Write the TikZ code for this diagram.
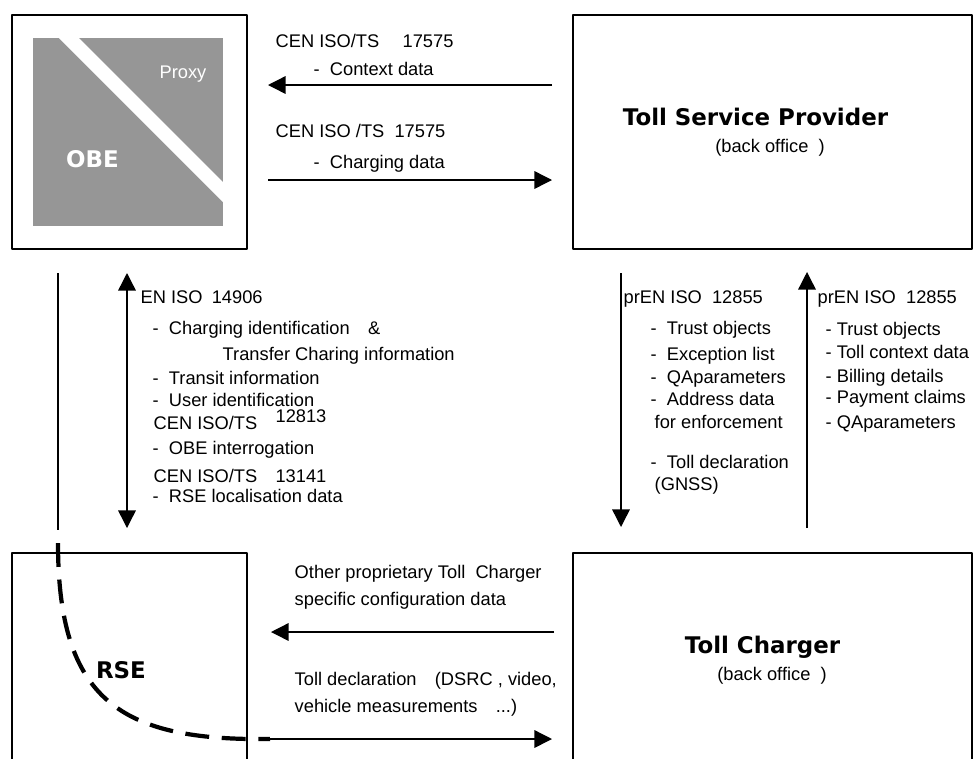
\documentclass[tikz,border=0pt]{standalone}
\usepackage{fontspec}
\setmainfont{Liberation Sans}
\newfontfamily\headfont{DejaVu Sans}
\usetikzlibrary{arrows.meta}
\definecolor{obegray}{RGB}{150,150,150}
\begin{document}
\begin{tikzpicture}[x=0.025cm,y=-0.025cm,line join=round,line width=1pt,
		>={Triangle[length=12.5pt,width=12.5pt]}]
	\tikzset{box/.style={draw,line width=1.3pt,inner sep=0pt},
		txt/.style={anchor=base west,inner sep=0pt,font=\fontsize{13}{15}\selectfont},
		sub/.style={anchor=base,inner sep=0pt,font=\fontsize{13}{15}\selectfont},
		head/.style={anchor=base,inner sep=0pt,font=\headfont\bfseries\fontsize{16.3}{19}\selectfont},
		link/.style={line width=3pt,dash pattern=on 17pt off 9pt}}
	\useasboundingbox (0,0) rectangle (977,758);
	\clip (0,0) rectangle (977,758);
	% boxes
	\node[box,minimum width=5.875cm,minimum height=5.85cm] (obe) at (129.5,132) {};
	\node[box,minimum width=9.975cm,minimum height=5.85cm] (tsp) at (772.5,132) {};
	\node[box,minimum width=5.875cm,minimum height=6.175cm] (rse) at (129.5,676.5) {};
	\node[box,minimum width=9.975cm,minimum height=6.175cm] (tc) at (772.5,676.5) {};
	% OBE with proxy
	\fill[obegray] (33,38) rectangle (223,226);
	\fill[white] (59,38) -- (79,38) -- (223,182) -- (223,202) -- cycle;
	\node[head,text=white] (obename) at (92.5,167) {OBE};
	\node[sub,text=white] (proxy) at (183,78) {Proxy};
	\node[head] (tspname) at (755.5,125) {Toll Service Provider};
	\node[sub] (tspsub) at (770,152) {(back office\ \ )};
	\node[head] (tcname) at (762.5,653) {Toll Charger};
	\node[sub] (tcsub) at (772,680) {(back office\ \ )};
	\node[head] (rsename) at (121,678) {RSE};
	% TSP <-> OBE
	\coordinate (ctxA) at (552,85);
	\coordinate (ctxB) at (268,85);
	\coordinate (chgA) at (268,180);
	\coordinate (chgB) at (552,180);
	\draw[->] (ctxA) -- (ctxB);
	\draw[->] (chgA) -- (chgB);
	\node[txt] (ctxstd) at (275,47) {CEN ISO/TS \quad 17575};
	\node[txt] (ctxdat) at (313,75) {-\ \ Context data};
	\node[txt] (chgstd) at (275,137) {CEN ISO /TS\ \ 17575};
	\node[txt] (chgdat) at (313,168) {-\ \ Charging data};
	% OBE <-> RSE
	\coordinate (dsrcA) at (58,273);
	\coordinate (dsrcB) at (58,530);
	\coordinate (idA) at (127,273);
	\coordinate (idB) at (127,528);
	\draw (dsrcA) -- (dsrcB);
	\draw[<->] (idA) -- (idB);
	\node[txt] (idstd) at (140,303) {EN ISO\enspace 14906};
	\node[txt] (id1) at (152,334) {-\ \ Charging identification\quad\&};
	\node[txt] (id2) at (222,360) {Transfer Charing information};
	\node[txt] (id3) at (152,384) {-\ \ Transit information};
	\node[txt] (id4) at (152,406) {-\ \ User identification};
	\node[txt] (intstd) at (153,429) {CEN ISO/TS\hspace{1em}\raisebox{4.3pt}{12813}};
	\node[txt] (int1) at (152,454) {-\ \ OBE interrogation};
	\node[txt] (locstd) at (153,482) {CEN ISO/TS\hspace{1em}13141};
	\node[txt] (loc1) at (152,502) {-\ \ RSE localisation data};
	% TSP <-> TC
	\coordinate (downA) at (621,273);
	\coordinate (downB) at (621,527);
	\coordinate (upA) at (807,528);
	\coordinate (upB) at (807,272);
	\draw[->] (downA) -- (downB);
	\draw[->] (upA) -- (upB);
	\node[txt] (downstd) at (623,303) {prEN ISO\ \ 12855};
	\foreach \y/\t [count=\i] in {334/{Trust objects},360/{Exception list},
			383/{QAparameters},405/{Address data},468/{Toll declaration}}
		\node[txt] (down\i) at (650,\y) {-\ \ \t};
	\node[txt] (down6) at (654,428) {for enforcement};
	\node[txt] (down7) at (654,490) {(GNSS)};
	\node[txt] (upstd) at (817,303) {prEN ISO\ \ 12855};
	\foreach \y/\t [count=\i] in {335/{Trust objects},358/{Toll context data},
			382/{Billing details},403/{Payment claims},428/{QAparameters}}
		\node[txt] (up\i) at (825,\y) {- \t};
	% TC <-> RSE
	\coordinate (cfgA) at (554,632);
	\coordinate (cfgB) at (271,632);
	\coordinate (declA) at (270,739);
	\coordinate (declB) at (552,739);
	\draw[->] (cfgA) -- (cfgB);
	\draw[->] (declA) -- (declB);
	\node[txt] (cfg1) at (294,578) {Other proprietary Toll\ \ Charger};
	\node[txt] (cfg2) at (294,605) {specific configuration data};
	\node[txt] (decl1) at (294,685) {Toll declaration\quad (DSRC , video,};
	\node[txt] (decl2) at (294,712) {vehicle measurements\quad ...)};
	% RSE zone
	\coordinate (zoneA) at (58,543);
	\draw[link] (zoneA) .. controls (58,700) and (120,741) .. (declA);
\end{tikzpicture}
\end{document}
